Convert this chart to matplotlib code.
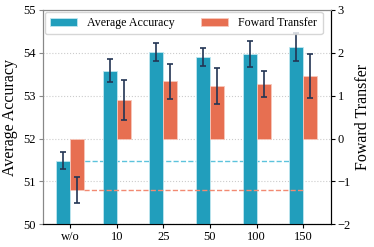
import numpy as np
import matplotlib.pyplot as plt

plt.rcParams['font.family'] = ['Liberation Serif', 'DejaVu Serif']
plt.rcParams['mathtext.fontset'] = 'stix'

# donnees
labels = ["w/o", "10", "25", "50", "100", "150"]
acc = np.array([51.48, 53.58, 54.01, 53.90, 53.97, 54.14])
acc_err = np.array([0.20, 0.27, 0.21, 0.22, 0.30, 0.33])
fwt = np.array([-1.20, 0.90, 1.33, 1.22, 1.27, 1.45])
fwt_err = np.array([0.30, 0.47, 0.41, 0.42, 0.30, 0.51])

teal = "#219ebc"
orange = "#e76f51"
errc = "#233554"

x = np.arange(len(labels))
w = 0.3

fig = plt.figure(figsize=(3.74, 2.47), dpi=100)
ax1 = fig.add_axes([0.114, 0.092, 0.77, 0.868])
ax2 = ax1.twinx()

ax1.bar(x - w/2, acc - 50, w, bottom=50, color=teal, edgecolor="#bfe6f0",
        linewidth=0.6, zorder=3, label="Average Accuracy")
ax1.errorbar(x - w/2, acc, yerr=acc_err, fmt="none", ecolor=errc, elinewidth=1.2,
             capsize=2.5, capthick=1.2, zorder=4)
ax2.bar(x + w/2, fwt, w, color=orange, edgecolor="#f7c7bb",
        linewidth=0.6, zorder=3, label="Foward Transfer")
ax2.errorbar(x + w/2, fwt, yerr=fwt_err, fmt="none", ecolor=errc, elinewidth=1.2,
             capsize=2.5, capthick=1.2, zorder=4)

# lignes de reference (valeur w/o)
ax1.hlines(acc[0], x[0], x[-1] - w, colors="#5cc3dc", linestyles="--", linewidth=1, zorder=2)
ax2.hlines(fwt[0], x[0] + w, x[-1], colors="#f28a72", linestyles="--", linewidth=1, zorder=2)

ax1.set_xlim(-0.59, 5.59)
ax1.set_ylim(50, 55)
ax2.set_ylim(-2, 3)
ax1.set_xticks(x)
ax1.set_xticklabels(labels)
ax1.set_yticks([50, 51, 52, 53, 54, 55])
ax2.set_yticks([-2, -1, 0, 1, 2, 3])
ax1.yaxis.grid(True, linestyle=":", color="#cccccc", linewidth=0.8, zorder=0)
ax1.set_axisbelow(True)

ax1.set_ylabel("Average Accuracy", fontsize=11.5, labelpad=4)
ax2.set_ylabel("Foward Transfer", fontsize=11.5, labelpad=3)
ax1.tick_params(labelsize=9, length=3, pad=2)
ax2.tick_params(labelsize=9, length=3, pad=2)

for ax in (ax1, ax2):
    ax.spines["left"].set_color("#888888")
    ax.spines["top"].set_color("#888888")
    ax.spines["right"].set_color("black")
    ax.spines["bottom"].set_color("black")
ax1.tick_params(axis="y", color="#888888")

h1, l1 = ax1.get_legend_handles_labels()
h2, l2 = ax2.get_legend_handles_labels()
leg = ax2.legend(h1 + h2, l1 + l2, ncol=2, loc="upper center", bbox_to_anchor=(0.49, 1.0),
                 fontsize=8.6, columnspacing=2.2, handlelength=2.2, handletextpad=0.9,
                 borderaxespad=0.15, borderpad=0.45, frameon=True)
leg.get_frame().set_edgecolor("#cccccc")

fig.savefig("out.png", dpi=100)
